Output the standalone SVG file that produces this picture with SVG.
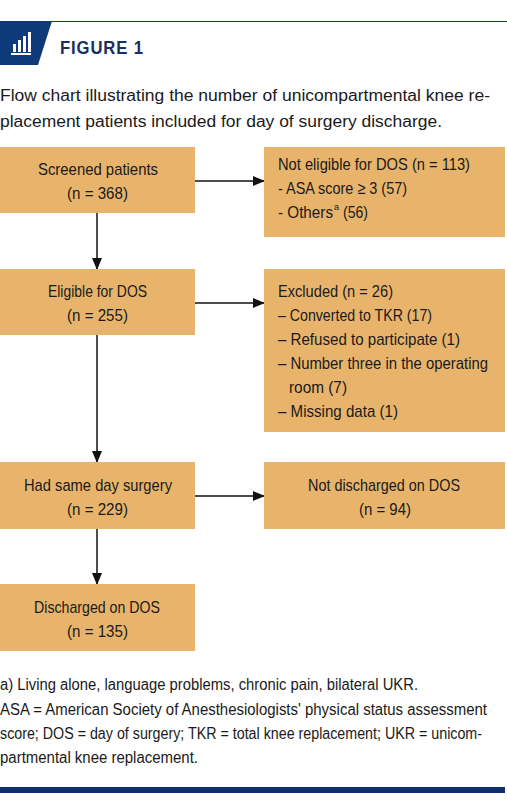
<svg xmlns="http://www.w3.org/2000/svg" width="507" height="800" viewBox="0 0 507 800">
<style>
.box{fill:#E8B46C;}
.t{font-family:"Liberation Sans",Arial,sans-serif;font-size:17px;fill:#1a1a1a;}
.sup{font-family:"Liberation Sans",Arial,sans-serif;font-size:9px;fill:#1a1a1a;}
.cap{font-family:"Liberation Sans",Arial,sans-serif;font-size:16px;fill:#1a1a1a;}
.ft{font-family:"Liberation Sans",Arial,sans-serif;font-size:16px;fill:#1a1a1a;}
.c{stroke:#111;stroke-width:1.5;fill:none;marker-end:url(#ah);}
</style>
<defs>
<marker id="ah" markerWidth="12" markerHeight="10" refX="11" refY="5" orient="auto" markerUnits="userSpaceOnUse">
<path d="M0,0 L12,5 L0,10 Z" fill="#111"/>
</marker>
</defs>
<rect width="507" height="800" fill="#fff"/>
<g id="header">
<line x1="0" y1="21.5" x2="507" y2="21.5" stroke="#0E3A7A" stroke-width="1.2"/>
<polygon points="0,21 52,21 38,65 0,65" fill="#0E3A7A"/>
<g fill="#fff">
<rect x="13" y="44" width="3" height="8"/>
<rect x="18" y="40" width="3" height="12"/>
<rect x="23" y="36" width="3" height="16"/>
<rect x="28" y="32" width="3" height="20"/>
<rect x="11" y="53" width="20" height="2"/>
</g>
<text x="60" y="54" font-family="Liberation Sans,Arial,sans-serif" font-size="18.5" font-weight="bold" fill="#1B2F5F" letter-spacing="1" textLength="84" lengthAdjust="spacingAndGlyphs">FIGURE 1</text>
<text class="cap" x="0" y="101" textLength="490" lengthAdjust="spacingAndGlyphs">Flow chart illustrating the number of unicompartmental knee re-</text>
<text class="cap" x="0" y="127" textLength="442" lengthAdjust="spacingAndGlyphs">placement patients included for day of surgery discharge.</text>
</g>
<g id="connectors">
<line class="c" x1="195" y1="181" x2="264" y2="181"/>
<line class="c" x1="97" y1="213" x2="97" y2="269"/>
<line class="c" x1="195" y1="303" x2="264" y2="303"/>
<line class="c" x1="97" y1="335" x2="97" y2="462"/>
<line class="c" x1="195" y1="496" x2="264" y2="496"/>
<line class="c" x1="97" y1="529" x2="97" y2="584"/>
</g>
<g id="screened">
<rect class="box" x="0" y="147" width="195" height="66"/>
<text class="t" x="38" y="175" textLength="120" lengthAdjust="spacingAndGlyphs">Screened patients</text>
<text class="t" x="67" y="199" textLength="61" lengthAdjust="spacingAndGlyphs">(n = 368)</text>
</g>
<g id="not-eligible">
<rect class="box" x="264" y="147" width="241" height="90"/>
<text class="t" x="278" y="170" textLength="192" lengthAdjust="spacingAndGlyphs">Not eligible for DOS (n = 113)</text>
<text class="t" x="278" y="194" textLength="129" lengthAdjust="spacingAndGlyphs">- ASA score ≥ 3 (57)</text>
<text class="t" x="278" y="218" textLength="55" lengthAdjust="spacingAndGlyphs">- Others</text>
<text class="sup" x="334" y="210">a</text>
<text class="t" x="343" y="218" textLength="25" lengthAdjust="spacingAndGlyphs">(56)</text>
</g>
<g id="eligible">
<rect class="box" x="0" y="269" width="195" height="66"/>
<text class="t" x="48" y="297" textLength="99" lengthAdjust="spacingAndGlyphs">Eligible for DOS</text>
<text class="t" x="67" y="321" textLength="61" lengthAdjust="spacingAndGlyphs">(n = 255)</text>
</g>
<g id="excluded">
<rect class="box" x="264" y="269" width="241" height="163"/>
<text class="t" x="278" y="297" textLength="115" lengthAdjust="spacingAndGlyphs">Excluded (n = 26)</text>
<text class="t" x="278" y="321" textLength="154" lengthAdjust="spacingAndGlyphs">– Converted to TKR (17)</text>
<text class="t" x="278" y="345" textLength="182" lengthAdjust="spacingAndGlyphs">– Refused to participate (1)</text>
<text class="t" x="278" y="369" textLength="210" lengthAdjust="spacingAndGlyphs">– Number three in the operating</text>
<text class="t" x="289" y="393" textLength="58" lengthAdjust="spacingAndGlyphs">room (7)</text>
<text class="t" x="278" y="417" textLength="120" lengthAdjust="spacingAndGlyphs">– Missing data (1)</text>
</g>
<g id="same-day">
<rect class="box" x="0" y="462" width="195" height="67"/>
<text class="t" x="24" y="491" textLength="148" lengthAdjust="spacingAndGlyphs">Had same day surgery</text>
<text class="t" x="67" y="515" textLength="61" lengthAdjust="spacingAndGlyphs">(n = 229)</text>
</g>
<g id="not-discharged">
<rect class="box" x="264" y="462" width="241" height="67"/>
<text class="t" x="308" y="491" textLength="152" lengthAdjust="spacingAndGlyphs">Not discharged on DOS</text>
<text class="t" x="359" y="515" textLength="52" lengthAdjust="spacingAndGlyphs">(n = 94)</text>
</g>
<g id="discharged">
<rect class="box" x="0" y="584" width="195" height="67"/>
<text class="t" x="34" y="613" textLength="126" lengthAdjust="spacingAndGlyphs">Discharged on DOS</text>
<text class="t" x="67" y="637" textLength="61" lengthAdjust="spacingAndGlyphs">(n = 135)</text>
</g>
<g id="footnote">
<text class="ft" x="0" y="690" textLength="418" lengthAdjust="spacingAndGlyphs">a) Living alone, language problems, chronic pain, bilateral UKR.</text>
<text class="ft" x="0" y="715" textLength="487" lengthAdjust="spacingAndGlyphs">ASA = American Society of Anesthesiologists' physical status assessment</text>
<text class="ft" x="0" y="739" textLength="482" lengthAdjust="spacingAndGlyphs">score; DOS = day of surgery; TKR = total knee replacement; UKR = unicom-</text>
<text class="ft" x="0" y="763" textLength="198" lengthAdjust="spacingAndGlyphs">partmental knee replacement.</text>
<rect x="0" y="787" width="505" height="6" fill="#0E2F6E"/>
</g>
</svg>
